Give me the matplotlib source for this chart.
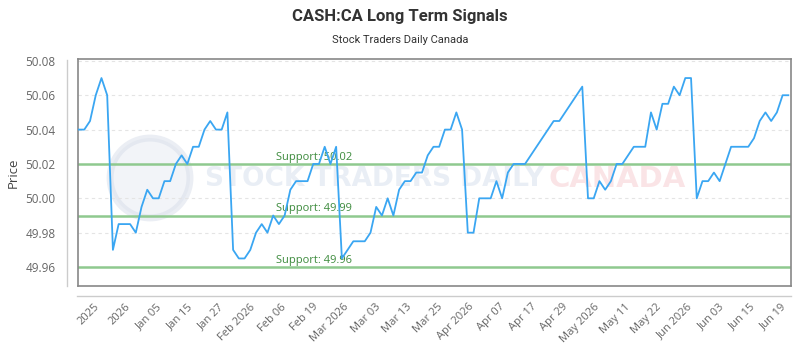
import matplotlib
matplotlib.use("Agg")
import matplotlib.pyplot as plt
from matplotlib.lines import Line2D
from matplotlib.patches import Ellipse
import numpy as np

# values
price = [
    50.04, 50.04, 50.045, 50.06, 50.07, 50.06, 49.97, 49.985, 49.985, 49.985,
    49.98, 49.995, 50.005, 50.00, 50.00, 50.01, 50.01, 50.02, 50.025, 50.02,
    50.03, 50.03, 50.04, 50.045, 50.04, 50.04, 50.05, 49.97, 49.965, 49.965,
    49.97, 49.98, 49.985, 49.98, 49.99, 49.985, 49.99, 50.005, 50.01, 50.01,
    50.01, 50.02, 50.02, 50.03, 50.02, 50.03, 49.965, 49.97, 49.975, 49.975,
    49.975, 49.98, 49.995, 49.99, 50.00, 49.99, 50.005, 50.01, 50.01, 50.015,
    50.015, 50.025, 50.03, 50.03, 50.04, 50.04, 50.05, 50.04, 49.98, 49.98,
    50.00, 50.00, 50.00, 50.01, 50.00, 50.015, 50.02, 50.02, 50.02, 50.025,
    50.03, 50.035, 50.04, 50.045, 50.045, 50.05, 50.055, 50.06, 50.065, 50.00,
    50.00, 50.01, 50.005, 50.01, 50.02, 50.02, 50.025, 50.03, 50.03, 50.03,
    50.05, 50.04, 50.055, 50.055, 50.065, 50.06, 50.07, 50.07, 50.00, 50.01,
    50.01, 50.015, 50.01, 50.02, 50.03, 50.03, 50.03, 50.03, 50.035, 50.045,
    50.05, 50.045, 50.05, 50.06, 50.06,
]
tick_labels = [
    "2025", "2026", "Jan 05", "Jan 15", "Jan 27", "Feb 2026", "Feb 06", "Feb 19",
    "Mar 2026", "Mar 03", "Mar 13", "Mar 25", "Apr 2026", "Apr 07", "Apr 17",
    "Apr 29", "May 2026", "May 11", "May 22", "Jun 2026", "Jun 03", "Jun 15", "Jun 19",
]
support_levels = [50.02, 49.99, 49.96]
support_labels = ["Support: 50.02", "Support: 49.99", "Support: 49.96"]

plt.rcParams['font.family'] = ['Open Sans', 'DejaVu Sans']

fig = plt.figure(figsize=(8, 3.5), dpi=100)
ax = fig.add_axes([0.0975, 0.183, 0.8915, 0.648])

x = np.arange(len(price))

# watermark
ax.add_patch(Ellipse((0.101, 0.476), 0.112, 0.352, transform=ax.transAxes,
                     facecolor='#e3e8f1', edgecolor='#d3dae7', lw=5, alpha=0.45, zorder=0))
ax.text(0.178, 0.47, "STOCK TRADERS DAILY", transform=ax.transAxes, fontsize=19,
        color='#dbe3ef', alpha=0.6, va='center', ha='left', fontweight='bold',
        family=['DejaVu Sans'], zorder=0)
ax.text(0.66, 0.47, "CANADA", transform=ax.transAxes, fontsize=21,
        color='#f8d2d6', alpha=0.6, va='center', ha='left', fontweight='bold',
        family=['DejaVu Sans'], zorder=0)

for yv in [50.08, 50.06, 50.04, 50.00, 49.98]:
    ax.axhline(yv, color='#e4e4e4', lw=0.8, ls=(0, (3, 3)), zorder=1)

for lvl, lab in zip(support_levels, support_labels):
    ax.axhline(lvl, color='#8fc98f', lw=1.8, zorder=2)
    ax.text(34.5, lvl + 0.0007, lab, color='#3d8b3d', fontsize=8, va='bottom', ha='left', zorder=3)

ax.plot(x, price, color='#3aa6f2', lw=1.3, zorder=4)

ax.set_xlim(-0.1, 124.5)
ax.set_ylim(49.949, 50.081)
ax.set_yticks([49.96, 49.98, 50.00, 50.02, 50.04, 50.06, 50.08])
ax.set_yticklabels([f"{v:.2f}" for v in [49.96, 49.98, 50.00, 50.02, 50.04, 50.06, 50.08]])
ax.set_xticks(np.linspace(3.3, 123.4, len(tick_labels)))
ax.set_xticklabels(tick_labels, rotation=45, ha='right', va='center', rotation_mode='anchor')
ax.tick_params(axis='x', length=0, pad=14, labelsize=8, labelcolor='#666666')
ax.tick_params(axis='y', length=0, pad=16, labelsize=8.5, labelcolor='#666666')
for s in ax.spines.values():
    s.set_color('#888888')
    s.set_linewidth(1.2)
ax.set_ylabel("Price", fontsize=9.5, color='#444444', labelpad=4)

# outer axis lines
fig.add_artist(Line2D([67 / 800, 67 / 800], [1 - 60 / 350, 1 - 286 / 350],
                      color='#cccccc', lw=1))
fig.add_artist(Line2D([77 / 800, 791 / 800], [1 - 296 / 350, 1 - 296 / 350],
                      color='#cccccc', lw=1))

fig.text(0.5, 1 - 16 / 350, "CASH:CA Long Term Signals", ha='center', va='center',
         fontsize=12, fontweight='bold', color='#333333', family=['Roboto', 'DejaVu Sans'])
fig.text(0.5, 1 - 40 / 350, "Stock Traders Daily Canada", ha='center', va='center',
         fontsize=8, color='#333333', family=['Roboto', 'DejaVu Sans'])

fig.savefig("out.png", dpi=100)
